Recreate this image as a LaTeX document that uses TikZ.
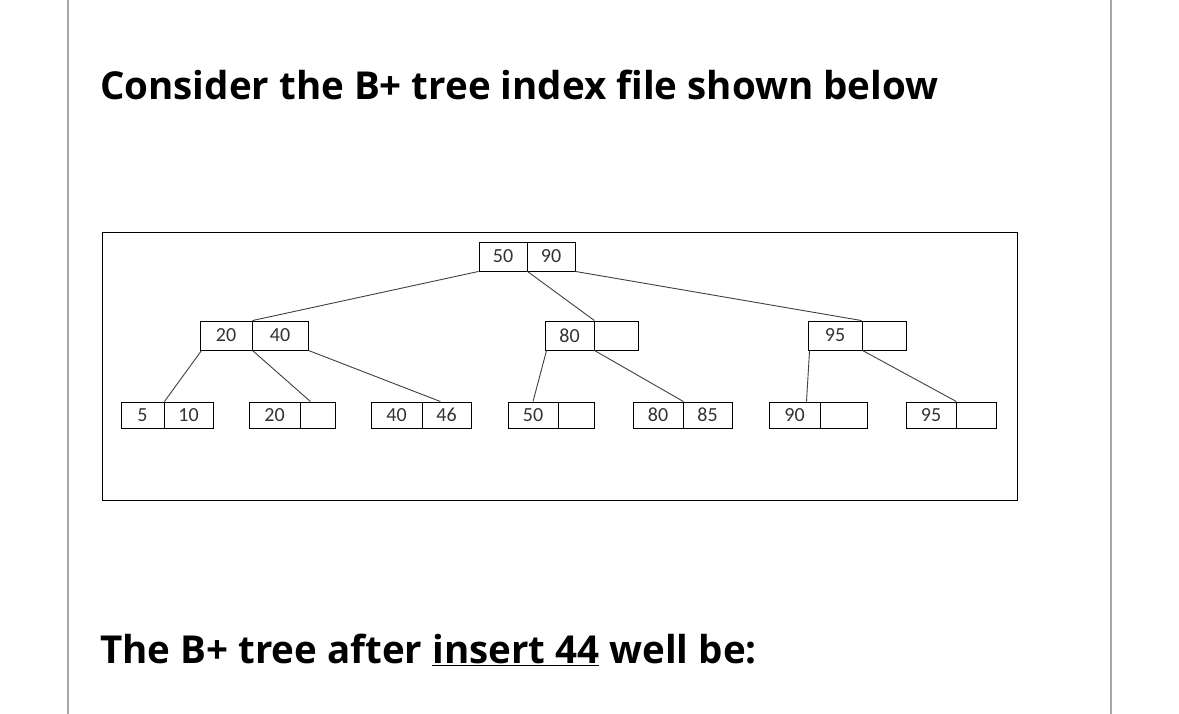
\documentclass[tikz,border=0pt]{standalone}
\usepackage{fontspec}
\setmainfont{Open Sans}
\newfontfamily\boxfont{Carlito}
\begin{document}
\begin{tikzpicture}[x=1pt,y=-1pt,
  cell/.style={draw,line width=0.9pt,inner sep=0pt,font=\boxfont\fontsize{20}{20}\selectfont,text=black!80},
  edge/.style={line width=0.9pt,black!75}]
\useasboundingbox (0,0) rectangle (1179,714);
\fill[white] (0,0) rectangle (1179,714);
\draw[black!35,line width=2pt] (68,0) -- (68,714) (1111,0) -- (1111,714);
\draw[line width=1pt] (102,233) rectangle (1017,500);
\node[anchor=base west,font=\bfseries\fontsize{38.5}{42}\selectfont,inner sep=0pt] (t1) at (100,100) {Consider the B+ tree index file shown below};
\node[anchor=base west,font=\bfseries\fontsize{38.5}{42}\selectfont,inner sep=0pt] (t2) at (100,663) {The B+ tree after \underline{insert 44} well be:};
\foreach \n/\a/\b/\ya/\yb/\t in {
 ra/479/527/242/271/50, rb/527/575/242/271/90,
 la/200/252/321/350/20, lb/252/308/321/350/40,
 ma/545/594/321/350/80, mb/594/638/321/350/{},
 na/808/862/321/350/95, nb/862/906/321/350/{},
 a1/121/164/402/428/5, a2/164/213/402/428/10,
 b1/249/300/402/428/20, b2/300/335/402/428/{},
 c1/371/422/402/428/40, c2/422/471/402/428/46,
 d1/508/558/402/428/50, d2/558/594/402/428/{},
 e1/633/683/402/428/80, e2/683/732/402/428/85,
 f1/769/820/402/428/90, f2/820/867/402/428/{},
 g1/906/956/402/428/95, g2/956/996/402/428/{}}
 {\node[cell,minimum width={\b-\a},minimum height={\yb-\ya}] (\n) at ({(\a+\b)/2},{(\ya+\yb)/2}) {\t};}
\draw[edge] (ra.south west) -- (la.north east);
\draw[edge] (ra.south east) -- (ma.north east);
\draw[edge] (rb.south east) -- (nb.north west);
\draw[edge] ([xshift=2pt]la.south west) -- (a1.north east);
\draw[edge] (la.south east) -- ([xshift=10pt]b1.north east);
\draw[edge] (lb.south east) -- ([xshift=18pt]c1.north east);
\draw[edge] ([xshift=2pt]ma.south west) -- (d1.north);
\draw[edge] (ma.south east) -- (e1.north east);
\draw[edge] ([xshift=2pt]na.south west) -- ([xshift=12pt]f1.north);
\draw[edge] (na.south east) -- (g1.north east);
\end{tikzpicture}
\end{document}
